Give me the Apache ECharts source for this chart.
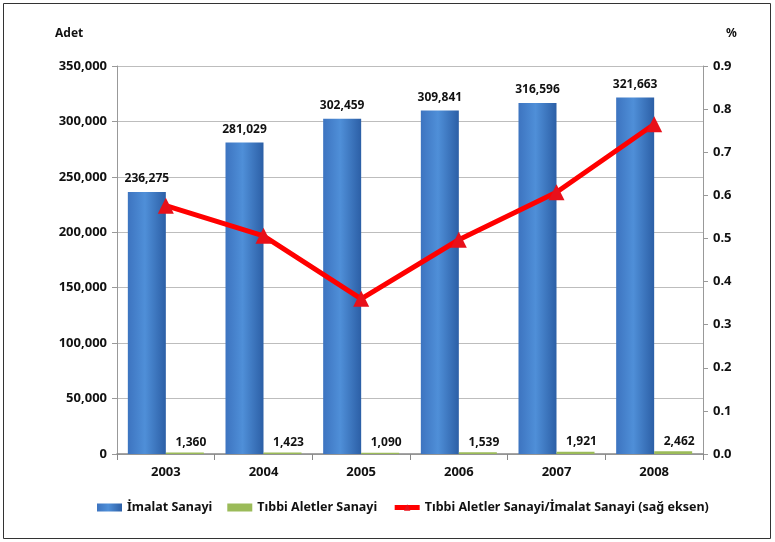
<!DOCTYPE html>
<html><head><meta charset="utf-8">
<script src="https://cdn.jsdelivr.net/npm/echarts@6/dist/echarts.min.js"></script>
<style>html,body{margin:0;padding:0;background:#fff}#c{width:775px;height:542px}</style>
</head><body><div id="c"></div>
<script>
const years = ['2003','2004','2005','2006','2007','2008'];
const imalat = [236275, 281029, 302459, 309841, 316596, 321663];
const tibbi = [1360, 1423, 1090, 1539, 1921, 2462];
const oran = [0.576, 0.506, 0.360, 0.497, 0.607, 0.765];
const leftTicks = {min: 0, max: 350000, interval: 50000};
const rightTicks = {min: 0, max: 0.9, interval: 0.1};

const FONT = '"Noto Sans", "DejaVu Sans", sans-serif';
const fmt = v => v.toLocaleString('en-US');
const chart = echarts.init(document.getElementById('c'));
chart.setOption({
  animation: false,
  textStyle: {fontFamily: FONT},
  graphic: [
    {type: 'rect', shape: {x: 3.5, y: 3.5, width: 767, height: 535}, style: {fill: 'none', stroke: '#333', lineWidth: 1}, silent: true},
    {type: 'text', left: 55, top: 28, style: {text: 'Adet', font: 'bold 12px ' + FONT, fill: '#111'}},
    {type: 'text', left: 726, top: 28, style: {text: '%', font: 'bold 12px ' + FONT, fill: '#111'}}
  ],
  grid: {left: 117, right: 72, top: 66, bottom: 88},
  legend: {
    top: 496, left: 92, itemGap: 15, itemWidth: 25, itemHeight: 8,
    textStyle: {fontFamily: FONT, fontWeight: 'bold', fontSize: 12.5, color: '#111'},
    data: [
      {name: 'İmalat Sanayi', icon: 'rect', itemStyle: {height: 6}},
      {name: 'Tıbbi Aletler Sanayi', icon: 'rect'},
      {name: 'Tıbbi Aletler Sanayi/İmalat Sanayi (sağ eksen)', lineStyle: {width: 5}, itemStyle: {color: '#e8101a'}}
    ]
  },
  xAxis: {
    type: 'category', data: years,
    axisLine: {lineStyle: {color: '#888', width: 1.5}},
    axisTick: {show: true, length: 6, lineStyle: {color: '#888'}},
    axisLabel: {fontFamily: FONT, fontWeight: 'bold', fontSize: 13, color: '#111', margin: 12}
  },
  yAxis: [
    {
      type: 'value', min: leftTicks.min, max: leftTicks.max, interval: leftTicks.interval,
      axisLine: {show: true, lineStyle: {color: '#999'}},
      axisTick: {show: true, length: 5, lineStyle: {color: '#999'}},
      splitLine: {lineStyle: {color: '#bdbdbd'}},
      axisLabel: {fontFamily: FONT, fontWeight: 'bold', fontSize: 13, color: '#111', margin: 10, formatter: v => fmt(v)}
    },
    {
      type: 'value', min: rightTicks.min, max: rightTicks.max, interval: rightTicks.interval,
      axisLine: {show: true, lineStyle: {color: '#999'}},
      axisTick: {show: true, length: 5, lineStyle: {color: '#999'}},
      splitLine: {show: false},
      axisLabel: {fontFamily: FONT, fontWeight: 'bold', fontSize: 13, color: '#111', margin: 10, formatter: v => v.toFixed(1)}
    }
  ],
  series: [
    {
      name: 'İmalat Sanayi', type: 'bar', data: imalat, barWidth: 38, barGap: '0%',
      itemStyle: {color: new echarts.graphic.LinearGradient(0, 0, 1, 0, [
        {offset: 0, color: '#3d74c0'}, {offset: 0.45, color: '#4f8fd8'}, {offset: 1, color: '#2c5fa6'}])},
      label: {show: true, position: 'top', distance: 7, fontFamily: FONT, fontWeight: 'bold', fontSize: 12, color: '#111', formatter: p => fmt(p.value)}
    },
    {
      name: 'Tıbbi Aletler Sanayi', type: 'bar', data: tibbi, barWidth: 38,
      itemStyle: {color: '#9bbb59'},
      label: {show: true, position: 'top', distance: 4, offset: [6, 0], fontFamily: FONT, fontWeight: 'bold', fontSize: 12, color: '#111', formatter: p => fmt(p.value)}
    },
    {
      name: 'Tıbbi Aletler Sanayi/İmalat Sanayi (sağ eksen)', type: 'line', yAxisIndex: 1, data: oran,
      lineStyle: {color: '#ff0000', width: 5},
      itemStyle: {color: '#e8101a'},
      symbol: 'triangle', symbolSize: 16, z: 5
    }
  ]
});
</script></body></html>
